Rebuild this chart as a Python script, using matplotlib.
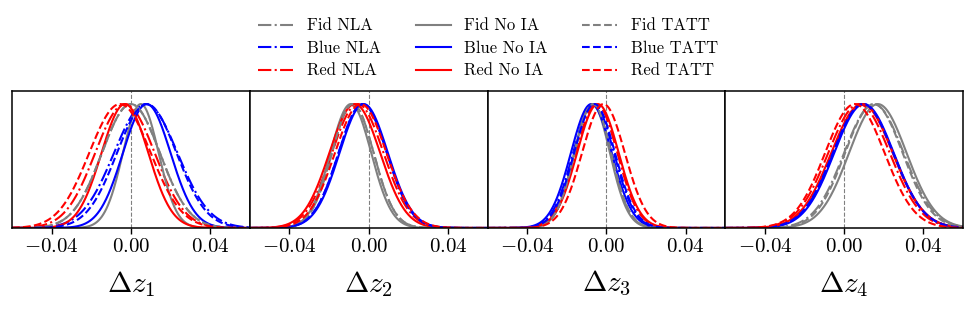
import numpy as np
import matplotlib
matplotlib.use("Agg")
import matplotlib.pyplot as plt

plt.rcParams['mathtext.fontset'] = 'cm'
plt.rcParams['font.family'] = 'serif'
plt.rcParams['font.serif'] = ['cmr10', 'DejaVu Serif']
plt.rcParams['axes.formatter.use_mathtext'] = True

# Curve labels / styles (order: NLA, No IA, TATT; Fid, Blue, Red)
labels = ["Fid NLA", "Blue NLA", "Red NLA",
          "Fid No IA", "Blue No IA", "Red No IA",
          "Fid TATT", "Blue TATT", "Red TATT"]
colors = ["gray", "blue", "red"] * 3
styles = ["-."] * 3 + ["-"] * 3 + ["--"] * 3

# Posterior means and widths, one list per panel
means_z1 = [0.000, 0.0075, -0.003, 0.005, 0.008, -0.003, 0.000, 0.008, -0.0055]
sigmas_z1 = [0.0146, 0.016, 0.015, 0.009, 0.012, 0.0118, 0.0146, 0.015, 0.0155]

means_z2 = [-0.008, -0.003, -0.0055, -0.009, -0.0025, -0.007, -0.008, -0.003, -0.004]
sigmas_z2 = [0.0105, 0.0122, 0.013, 0.0103, 0.0122, 0.0128, 0.0105, 0.0122, 0.013]

means_z3 = [-0.007, -0.0065, -0.005, -0.0072, -0.0076, -0.0043, -0.0068, -0.006, -0.0015]
sigmas_z3 = [0.0092, 0.0103, 0.0105, 0.009, 0.0103, 0.0105, 0.0092, 0.0103, 0.0108]

means_z4 = [0.015, 0.0095, 0.0075, 0.017, 0.010, 0.009, 0.015, 0.0095, 0.0054]
sigmas_z4 = [0.015, 0.0152, 0.0155, 0.0145, 0.015, 0.0155, 0.0145, 0.0152, 0.015]

panel_means = [means_z1, means_z2, means_z3, means_z4]
panel_sigmas = [sigmas_z1, sigmas_z2, sigmas_z3, sigmas_z4]
xlabels = [r"$\Delta z_1$", r"$\Delta z_2$", r"$\Delta z_3$", r"$\Delta z_4$"]
xticks = [-0.04, 0.0, 0.04]
xticklabels = [r"$-0.04$", r"$0.00$", r"$0.04$"]

fig, axs = plt.subplots(1, 4, figsize=(9.76, 3.14), dpi=100, sharey=True)
fig.subplots_adjust(left=0.0123, right=0.9867, bottom=0.274, top=0.710, wspace=0)

x = np.linspace(-0.06, 0.06, 600)
for ax, means, sigmas, xl in zip(axs, panel_means, panel_sigmas, xlabels):
    ax.axvline(0, color="gray", ls="--", lw=0.8, zorder=0)
    for m, s, c, ls, lab in zip(means, sigmas, colors, styles, labels):
        # normalised to peak = 1, as in the original
        ax.plot(x, np.exp(-0.5 * ((x - m) / s) ** 2), color=c, ls=ls, lw=1.5, label=lab)
    ax.set_xlim(-0.06, 0.06)
    ax.set_ylim(0, 1.105)
    ax.set_yticks([])
    ax.set_xticks(xticks)
    ax.set_xticklabels(xticklabels, fontsize=15)
    ax.set_xlabel(xl, fontsize=21, labelpad=9)
    ax.tick_params(axis='x', direction='out', length=4, width=1)
    for sp in ax.spines.values():
        sp.set_linewidth(1.1)

handles, labs = axs[0].get_legend_handles_labels()
fig.legend(handles, labs, loc="upper center", bbox_to_anchor=(0.5, 0.99), ncol=3,
           frameon=False, fontsize=12, handlelength=2.1, handletextpad=0.8,
           columnspacing=2.1, labelspacing=0.43)

plt.savefig("out.png")
plt.close()
